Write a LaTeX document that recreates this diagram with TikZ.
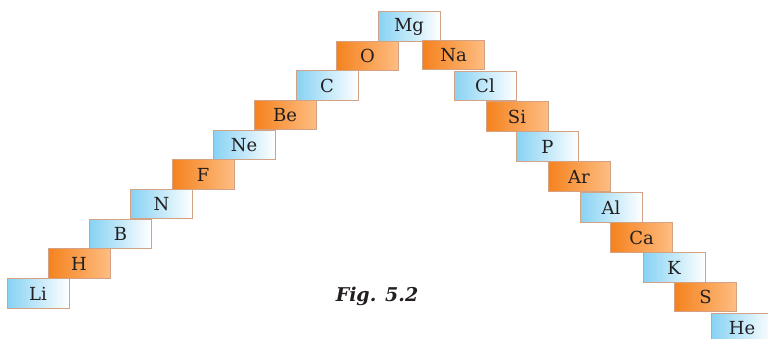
\documentclass[tikz,border=0pt]{standalone}
\usepackage{fontspec}
\setmainfont{DejaVu Serif}
\begin{document}
\begin{tikzpicture}[x=1pt,y=-1pt,
  cell/.style={draw=cellrim,line width=0.9pt,minimum width=62pt,minimum height=29.5pt,
    inner sep=0pt,font=\fontsize{18}{18}\selectfont,text=ink},
  bluecell/.style={cell,left color=skyA,right color=white},
  orangecell/.style={cell,left color=orA,right color=orB},
  caption/.style={font=\fontsize{19}{19}\selectfont\bfseries\itshape,text=ink}]
\definecolor{cellrim}{HTML}{D3A184}
\definecolor{skyA}{HTML}{86D2F3}
\definecolor{orA}{HTML}{F5821E}
\definecolor{orB}{HTML}{FDBD82}
\definecolor{ink}{HTML}{231F20}
\useasboundingbox (0,0) rectangle (768,339);
\clip (0,0) rectangle (768,339);
% left flight of steps
\node[bluecell]   (li) at (38,293.5)  {Li};
\node[orangecell] (h)  at (79,263.5)  {H};
\node[bluecell]   (b)  at (120.5,234) {B};
\node[bluecell]   (n)  at (161.5,204) {N};
\node[orangecell] (f)  at (203,174.5) {F};
\node[bluecell]   (ne) at (244,145)   {Ne};
\node[orangecell] (be) at (285,115)   {Be};
\node[bluecell]   (c)  at (327,85.5)  {C};
\node[orangecell] (o)  at (367.5,56)  {O};
% top
\node[bluecell]   (mg) at (409,26.5)  {Mg};
% right flight of steps
\node[orangecell] (na) at (453.5,55)  {Na};
\node[bluecell]   (cl) at (485,86)    {Cl};
\node[orangecell] (si) at (517,116.5) {Si};
\node[bluecell]   (p)  at (547.5,146.5) {P};
\node[orangecell] (ar) at (579,176.5) {Ar};
\node[bluecell]   (al) at (611,207.5) {Al};
\node[orangecell] (ca) at (641.5,237.5) {Ca};
\node[bluecell]   (k)  at (674,267.5) {K};
\node[orangecell] (s)  at (705.5,297) {S};
\node[bluecell]   (he) at (742,328)   {He};
% caption
\node[caption] (fig) at (377,296) {Fig. 5.2};
\end{tikzpicture}
\end{document}
